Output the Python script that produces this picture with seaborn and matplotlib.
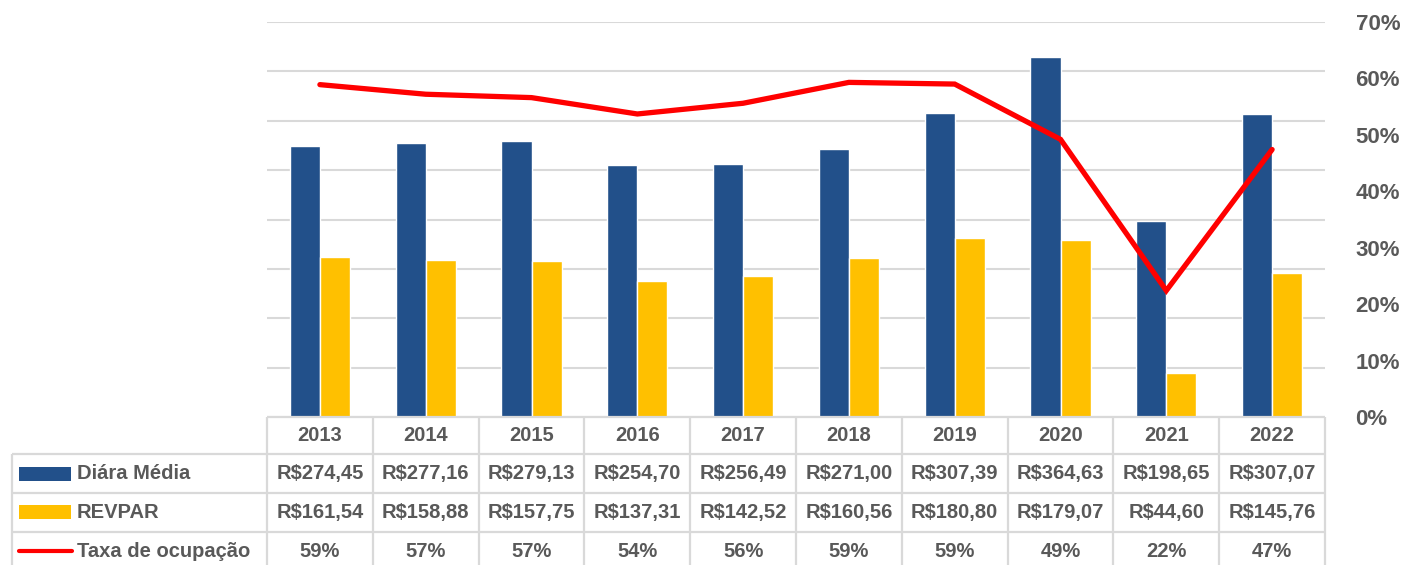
import pandas as pd
import numpy as np
import matplotlib
matplotlib.use("Agg")
import matplotlib.pyplot as plt
import seaborn as sns
from matplotlib.patches import Rectangle

# ==========================
# DATA
# ==========================
years = ["2013", "2014", "2015", "2016", "2017", "2018", "2019", "2020", "2021", "2022"]
diaria_media = [274.45, 277.16, 279.13, 254.70, 256.49, 271.00, 307.39, 364.63, 198.65, 307.07]
revpar = [161.54, 158.88, 157.75, 137.31, 142.52, 160.56, 180.80, 179.07, 44.60, 145.76]
taxa_ocupacao = [0.589, 0.572, 0.566, 0.537, 0.556, 0.593, 0.590, 0.492, 0.224, 0.474]
series_names = ["Diára Média", "REVPAR", "Taxa de ocupação"]
pct_ticks = [0.0, 0.1, 0.2, 0.3, 0.4, 0.5, 0.6, 0.7]

BLUE = "#22508A"
YELLOW = "#FFC000"
RED = "#FF0000"
GRAY_TXT = "#595959"
GRID = "#D9D9D9"

df = pd.DataFrame({
    "Ano": years * 2,
    "Serie": [series_names[0]] * len(years) + [series_names[1]] * len(years),
    "Valor": diaria_media + revpar,
})

sns.set_theme(style="white")
plt.rcParams["font.family"] = ["Liberation Sans", "DejaVu Sans"]
plt.rcParams["font.weight"] = "bold"

W, H = 1402, 565
fig = plt.figure(figsize=(W / 100, H / 100), dpi=100)

# plot area in pixels
x0, x1 = 267, 1325
y_top, y_bot = 22, 417
ax = fig.add_axes([x0 / W, (H - y_bot) / H, (x1 - x0) / W, (y_bot - y_top) / H])

sns.barplot(
    data=df, x="Ano", y="Valor", hue="Serie",
    hue_order=series_names[:2], palette=[BLUE, YELLOW],
    width=0.57, saturation=1, legend=False, ax=ax,
)
ax.set_xlim(-0.5, len(years) - 0.5)
ax.set_ylim(0, 400)
ax.set_yticks(np.arange(0, 401, 50))
ax.yaxis.grid(True, color=GRID, linewidth=1.5)
ax.set_axisbelow(True)
ax.set_xlabel("")
ax.set_ylabel("")
for s in ax.spines.values():
    s.set_visible(False)

# secondary axis - occupancy
ax2 = ax.twinx()
sns.lineplot(x=np.arange(len(years)), y=taxa_ocupacao, color=RED,
             linewidth=3.8, ax=ax2)
ax2.lines[0].set_solid_capstyle("round")
ax2.lines[0].set_solid_joinstyle("miter")
ax2.set_ylim(0, 0.7)
ax2.set_yticks(pct_ticks)
ax2.set_yticklabels([f"{t * 100:.0f}%" for t in pct_ticks],
                    fontsize=16, fontweight="bold", color=GRAY_TXT)
ax2.tick_params(right=False, left=False, pad=16)
ax2.set_xlim(-0.5, len(years) - 0.5)
for s in ax2.spines.values():
    s.set_visible(False)
# twinx turns the left ticks back on
ax.tick_params(left=False, labelleft=False, bottom=False, labelbottom=False)

# ==========================
# DATA TABLE
# ==========================
tab = fig.add_axes([0, 0, 1, 1])
tab.set_xlim(0, W)
tab.set_ylim(H, 0)
tab.axis("off")

cw = (x1 - x0) / len(years)
rows = [417, 454, 493, 532, 571]
left = 12
lkw = dict(color=GRID, linewidth=1.6, solid_capstyle="butt")

tab.plot([x0, x1], [rows[0], rows[0]], **lkw)
for r in rows[1:4]:
    tab.plot([left, x1], [r, r], **lkw)
tab.plot([left, left], [rows[1], H], **lkw)
for i in range(len(years) + 1):
    tab.plot([x0 + i * cw, x0 + i * cw], [rows[0], H], **lkw)

row_text = [
    years,
    [f"R${v:.2f}".replace(".", ",") for v in diaria_media],
    [f"R${v:.2f}".replace(".", ",") for v in revpar],
    [f"{v * 100:.0f}%" for v in taxa_ocupacao],
]
for r, texts in enumerate(row_text):
    yc = (rows[r] + rows[r + 1]) / 2
    for i, t in enumerate(texts):
        tab.text(x0 + (i + 0.5) * cw, yc, t, ha="center", va="center",
                 fontsize=14.5, fontweight="bold", color=GRAY_TXT)

# legend keys inside the table
tab.add_patch(Rectangle((19, 467), 52, 14, color=BLUE, lw=0))
tab.add_patch(Rectangle((19, 505), 52, 14, color=YELLOW, lw=0))
tab.plot([19, 72], [551, 551], color=RED, linewidth=3, solid_capstyle="round")
for r, name in enumerate(series_names):
    yc = (rows[r + 1] + rows[r + 2]) / 2
    tab.text(77, yc, name, ha="left", va="center",
             fontsize=14.5, fontweight="bold", color=GRAY_TXT)

fig.savefig("out.png", dpi=100)
